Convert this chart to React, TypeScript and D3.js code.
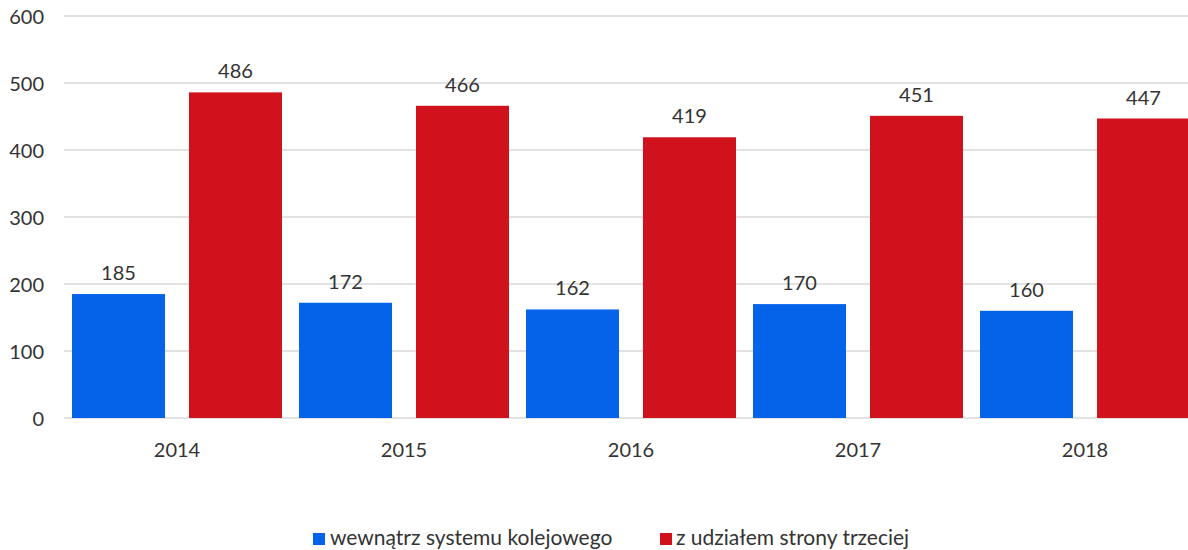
import React from "react";
import * as d3 from "d3";

const years = ["2014", "2015", "2016", "2017", "2018"];
const seriesNames = ["wewnątrz systemu kolejowego", "z udziałem strony trzeciej"];
const internalValues = [185, 172, 162, 170, 160];
const thirdPartyValues = [486, 466, 419, 451, 447];
const yTicks = [0, 100, 200, 300, 400, 500, 600];
const colors = ["#0563EA", "#D0121D"];

const W = 1188;
const H = 550;
const FONT = "Lato, 'Open Sans', sans-serif";
const TEXT = "#333333";

export default function App() {
  const x0 = d3.scaleBand<string>().domain(years).range([63.5, 1198.5]).padding(0);
  const x1 = d3
    .scaleBand<string>()
    .domain(seriesNames)
    .range([8.5, x0.bandwidth() - 8.5])
    .paddingInner(0.205)
    .paddingOuter(0);
  const y = d3.scaleLinear().domain([0, 600]).range([418, 16]);
  const seriesValues = [internalValues, thirdPartyValues];

  return (
    <svg
      width={W}
      height={H}
      style={{ position: "absolute", left: 0, top: 0, background: "#fff" }}
      fontFamily={FONT}
    >
      {yTicks.map((t) => (
        <g key={t}>
          <line x1={64} x2={W} y1={y(t)} y2={y(t)} stroke="#d9d9d9" strokeWidth={1.3} />
          <text x={44} y={y(t) + 7.5} textAnchor="end" fontSize={20} fill={TEXT}>
            {t}
          </text>
        </g>
      ))}
      {years.map((yr, i) => (
        <g key={yr}>
          {seriesNames.map((s, j) => {
            const v = seriesValues[j][i];
            const bx = (x0(yr) as number) + (x1(s) as number);
            return (
              <g key={s}>
                <rect x={bx} y={y(v)} width={x1.bandwidth()} height={y(0) - y(v)} fill={colors[j]} />
                <text
                  x={bx + x1.bandwidth() / 2}
                  y={y(v) - 14}
                  textAnchor="middle"
                  fontSize={20}
                  fill={TEXT}
                >
                  {v}
                </text>
              </g>
            );
          })}
          <text
            x={(x0(yr) as number) + x0.bandwidth() / 2}
            y={457}
            textAnchor="middle"
            fontSize={20}
            fill={TEXT}
          >
            {yr}
          </text>
        </g>
      ))}
      <g>
        <rect x={313} y={533} width={12} height={12} fill={colors[0]} />
        <text x={330} y={545} fontSize={21} fill={TEXT}>
          {seriesNames[0]}
        </text>
        <rect x={660} y={533} width={12} height={12} fill={colors[1]} />
        <text x={676} y={545} fontSize={21} fill={TEXT}>
          {seriesNames[1]}
        </text>
      </g>
    </svg>
  );
}
